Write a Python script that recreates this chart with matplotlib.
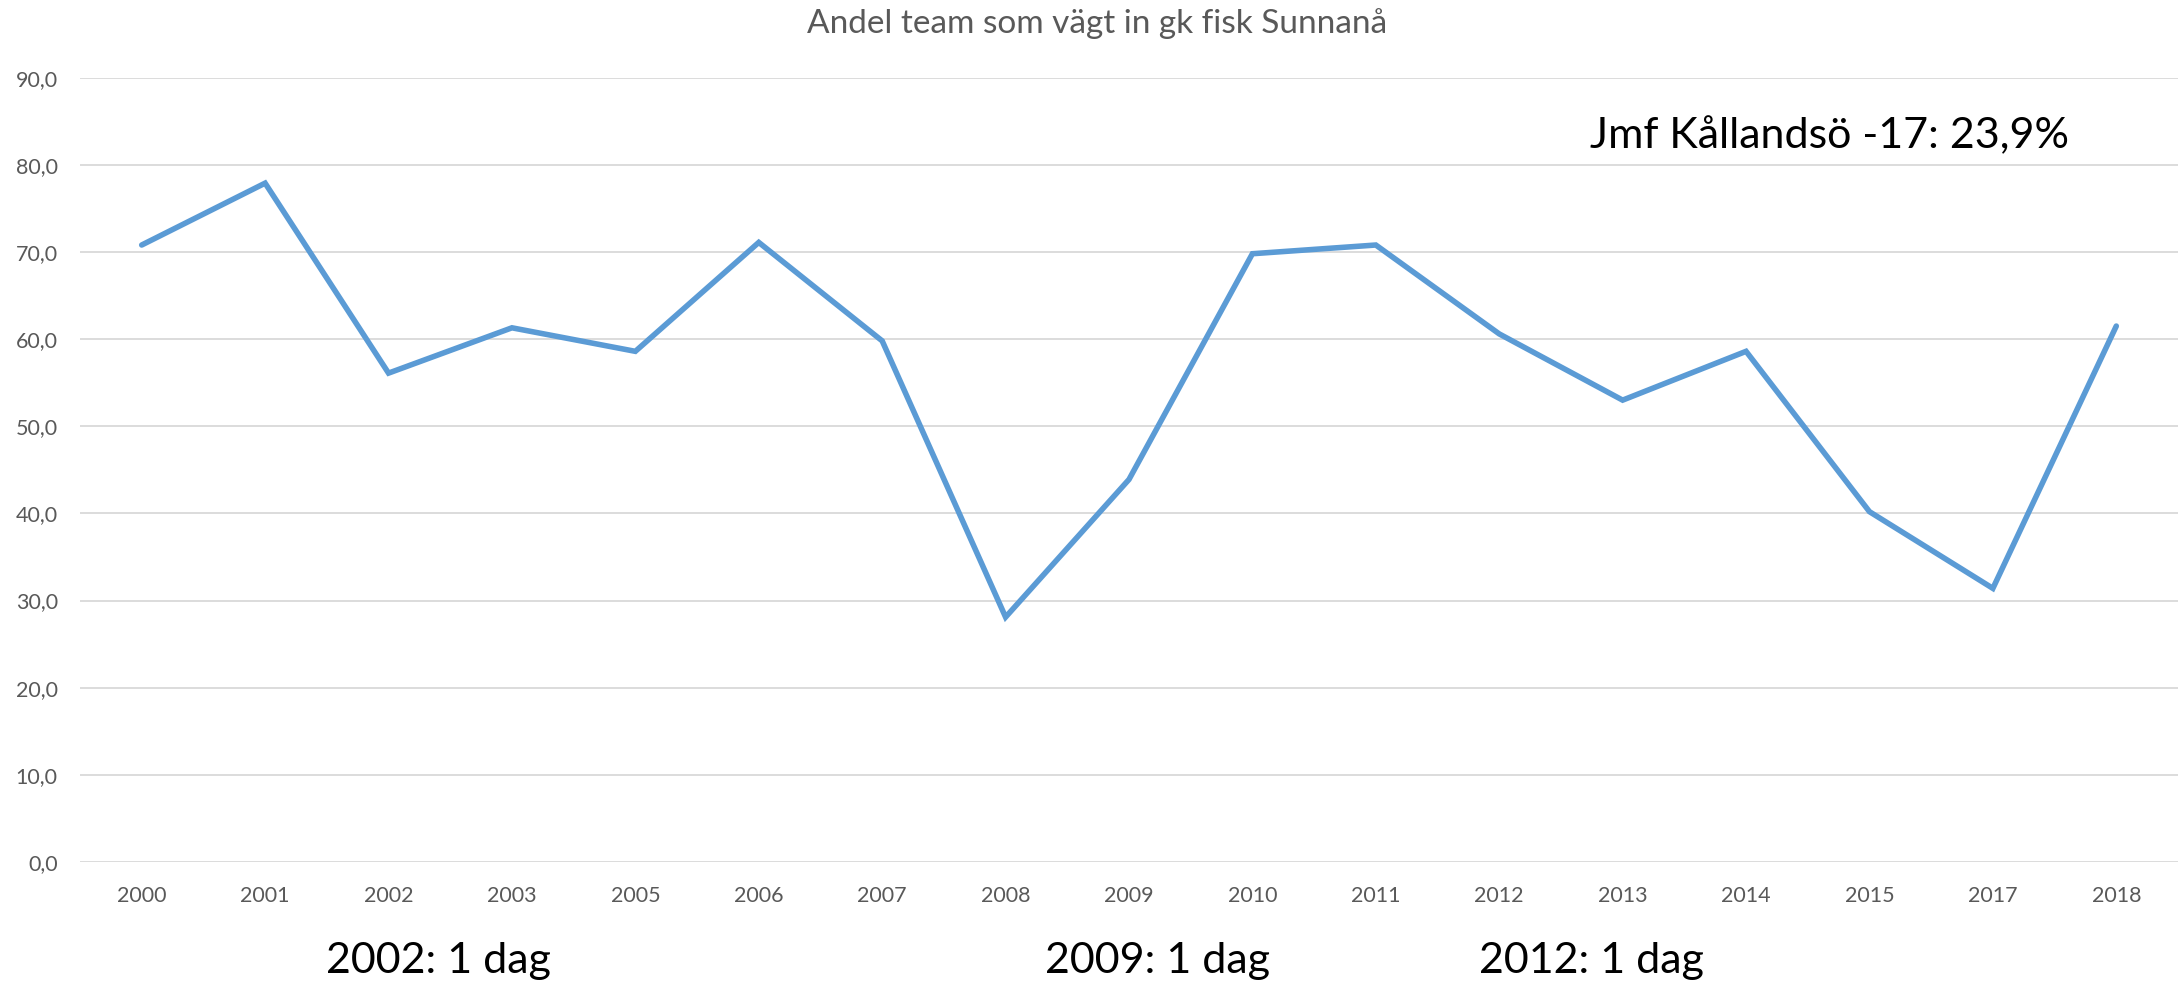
import matplotlib
matplotlib.use('Agg')
import matplotlib.pyplot as plt

# data
years = ['2000', '2001', '2002', '2003', '2005', '2006', '2007', '2008', '2009',
         '2010', '2011', '2012', '2013', '2014', '2015', '2017', '2018']
andel = [70.8, 77.9, 56.1, 61.3, 58.6, 71.1, 59.8, 28.1, 43.9,
         69.8, 70.8, 60.6, 53.0, 58.6, 40.2, 31.4, 61.5]
yticks = [0, 10, 20, 30, 40, 50, 60, 70, 80, 90]

title = 'Andel team som vägt in gk fisk Sunnanå'
note_top = 'Jmf Kållandsö -17: 23,9%'
notes_bottom = ['2002: 1 dag', '2009: 1 dag', '2012: 1 dag']

plt.rcParams['font.family'] = ['Lato', 'DejaVu Sans']
grey = '#595959'

fig = plt.figure(figsize=(21.78, 9.84), dpi=100)
ax = fig.add_axes([80/2178, 1 - 862/984, 1 - 80/2178, (862 - 77.7)/984])

x = list(range(len(years)))
ax.plot(x, andel, color='#5B9BD5', lw=4.0, solid_capstyle='round',
        solid_joinstyle='miter', zorder=3)

ax.set_xlim(-0.5, len(years) - 0.5)
ax.set_ylim(0, 90)
ax.set_yticks(yticks)
ax.set_yticklabels(['{:.1f}'.format(v).replace('.', ',') for v in yticks])
ax.set_xticks(x)
ax.set_xticklabels(years)
ax.tick_params(axis='both', length=0, labelsize=15.5, labelcolor=grey)
ax.tick_params(axis='x', pad=17)
ax.tick_params(axis='y', pad=16)
ax.yaxis.grid(True, color='#D9D9D9', lw=1.3)
ax.set_axisbelow(True)
for s in ax.spines.values():
    s.set_visible(False)

fig.text(1097/2178, 1 - 24/984, title, ha='center', va='center',
         fontsize=24, color=grey)
fig.text(1590/2178, 1 - 148/984, note_top, ha='left', va='baseline',
         fontsize=31, color='black')
for xp, t in zip([326, 1045, 1479], notes_bottom):
    fig.text(xp/2178, 1 - 973/984, t, ha='left', va='baseline',
             fontsize=31, color='black')

fig.savefig('out.png', dpi=100, facecolor='white')
